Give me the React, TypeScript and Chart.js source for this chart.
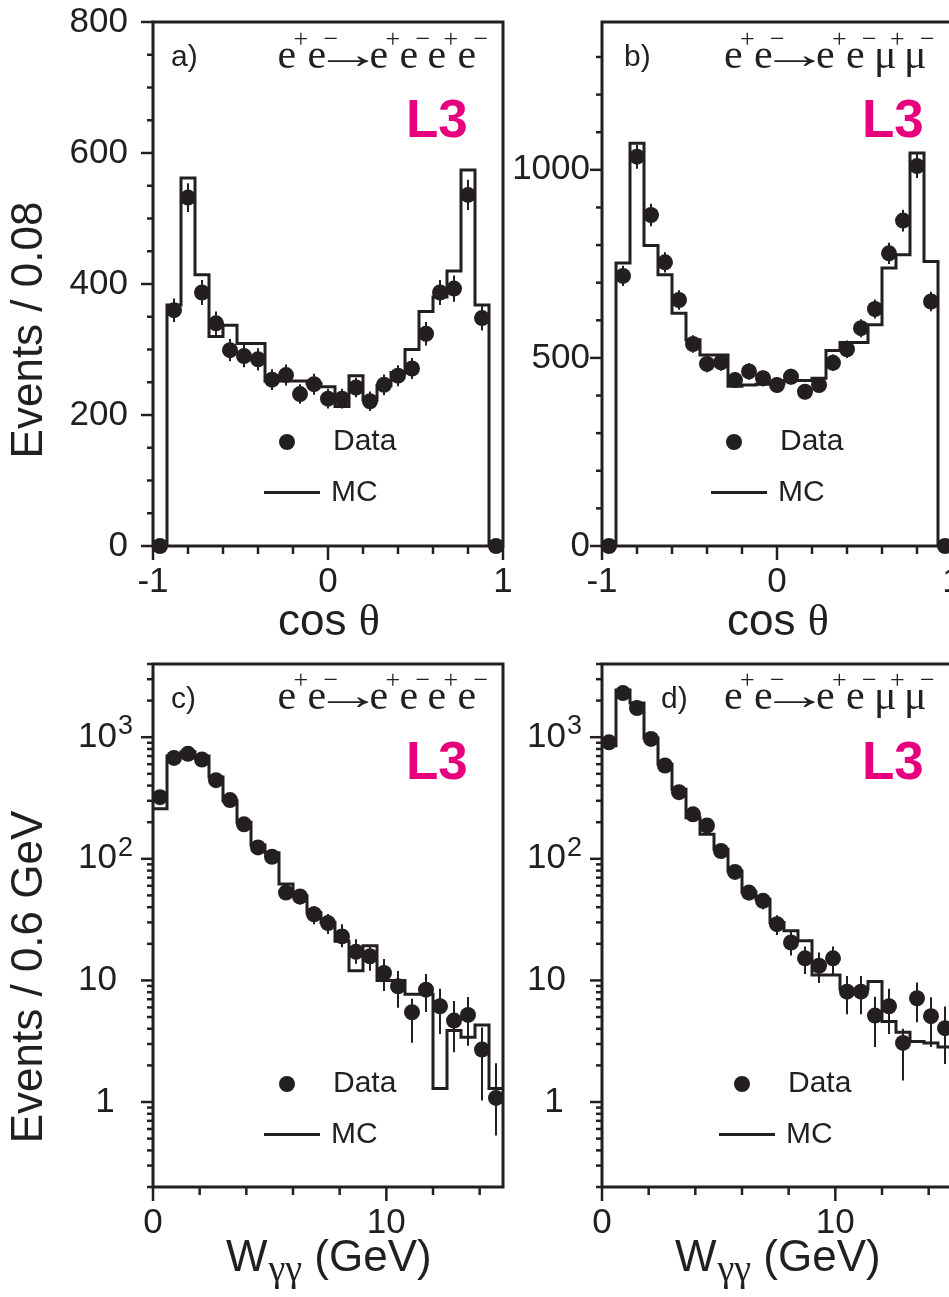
import React, { useEffect, useRef } from 'react';
import { Chart, registerables } from 'chart.js';

Chart.register(...registerables);

const INK = '#231f20';
const L3_COLOR = '#e6007e';
const SANS = '"Liberation Sans", Arial, Helvetica, sans-serif';
const SERIF = '"Liberation Serif", "Times New Roman", Times, serif';

// ---------- binning ----------
const cosBinLow = -1;
const cosBinWidth = 0.08;
const wBinLow = 0;
const wBinWidth = 0.6;

// ---------- a) cos theta, e+e- -> e+e-e+e- ----------
const cosDataEE = [0, 360, 532, 387, 340, 299, 290, 285, 254, 261, 232, 247, 225, 225, 242, 221, 246, 260, 271, 324, 387, 393, 536, 348, 0];
const cosErrEE = [0, 18, 22, 19, 18, 17, 17, 17, 16, 16, 15, 16, 15, 15, 15, 15, 16, 16, 16, 18, 19, 20, 23, 19, 0];
const cosMcEE = [0, 368, 562, 414, 320, 337, 309, 309, 252, 252, 252, 248, 243, 213, 260, 223, 245, 265, 300, 358, 380, 420, 574, 368, 0];

// ---------- b) cos theta, e+e- -> e+e-mu+mu- ----------
const cosDataMM = [0, 718, 1035, 880, 754, 654, 537, 484, 488, 441, 464, 446, 428, 450, 410, 428, 487, 523, 579, 630, 778, 865, 1010, 650, 0];
const cosErrMM = [0, 27, 32, 30, 27, 26, 23, 22, 22, 21, 22, 21, 21, 21, 20, 21, 22, 23, 24, 25, 28, 29, 32, 26, 0];
const cosMcMM = [0, 752, 1071, 799, 721, 619, 548, 508, 508, 425, 428, 430, 432, 440, 440, 446, 520, 541, 541, 588, 739, 774, 1045, 756, 0];

// ---------- c) W_gg, e+e- -> e+e-e+e- ----------
const wDataEE = [321, 676, 730, 655, 443, 304, 192, 124, 104, 52.8, 49, 35, 29.6, 23.0, 17.2, 15.8, 11.5, 8.95, 5.47, 8.39, 6.13, 4.67, 5.2, 2.7, 1.08];
const wErrUpEE = [18, 26, 27, 26, 21, 17, 14, 11, 10, 7, 7, 6, 5.5, 5.9, 4.6, 3.7, 3.5, 3.0, 1.6, 2.9, 2.4, 2.1, 2.1, 1.4, 1.0];
const wErrDownEE = [18, 26, 27, 26, 21, 17, 14, 11, 10, 7, 7, 6, 5.5, 4.3, 3.5, 3.8, 3.3, 3.0, 2.4, 2.9, 2.5, 2.1, 2.3, 1.67, 0.55];
const wMcEE = [258, 700, 760, 700, 470, 300, 200, 130, 112, 62, 49.5, 36, 30, 21, 12.0, 19.3, 10, 10, 7.7, 7.7, 1.29, 3.87, 3.41, 4.3, 1.29];

// ---------- d) W_gg, e+e- -> e+e-mu+mu- ----------
const wDataMM = [908, 2308, 1738, 968, 585, 353, 232, 188, 116, 78, 52.8, 45.1, 29.0, 20.5, 15.2, 13.2, 15.2, 8.08, 8.08, 5.14, 6.13, 3.06, 7.13, 5.08, 4.05];
const wErrUpMM = [30, 48, 42, 31, 24, 19, 15, 14, 11, 9, 7.3, 6.7, 5.4, 4.5, 3.8, 3.8, 3.8, 2.8, 2.8, 2.2, 2.4, 0.94, 2.5, 2.2, 2.05];
const wErrDownMM = [30, 48, 42, 31, 24, 19, 15, 14, 11, 9, 7.3, 6.7, 5.4, 4.5, 3.9, 3.7, 3.9, 2.8, 2.8, 2.3, 2.5, 1.56, 2.6, 2.25, 2.0];
const wMcMM = [850, 2450, 1910, 987, 598, 373, 218, 159, 120, 79, 53, 46.5, 30, 25.6, 21.2, 11.1, 11.1, 8.5, 8.5, 9.8, 4.6, 3.75, 3.14, 3.06, 2.83];

// ---------- axes / tick labels ----------
const cosXMajor = [-1, 0, 1];
const cosXMinorStep = 0.2;
const cosYMajorEE = [0, 200, 400, 600, 800];
const cosYMinorEE = 50;
const cosYMajorMM = [0, 500, 1000];
const cosYMinorMM = 100;
const wXMajor = [0, 10];
const wXMinorStep = 2;
const logYLabels = [
  { v: 1, base: '1', sup: '' },
  { v: 10, base: '10', sup: '' },
  { v: 100, base: '10', sup: '2' },
  { v: 1000, base: '10', sup: '3' },
];

const panels: any[] = [
  {
    key: 'a', left: 0, top: 0, w: 520, h: 650, yW: 153, padTop: 22, padRight: 17, xH: 104,
    log: false, binLow: cosBinLow, binWidth: cosBinWidth,
    data: cosDataEE, errUp: cosErrEE, errDown: cosErrEE, mc: cosMcEE,
    xMin: -1, xMax: 1, yMin: 0, yMax: 800, xMajor: cosXMajor, xMinorStep: cosXMinorStep,
    yMajor: cosYMajorEE, yMinorStep: cosYMinorEE, yLabelPad: 25,
    label: 'a)', labelDx: 18, l3Dx: 253, procDx: 124.5, procDy: 46, last: 'e', legendDx: 0,
    xTitle: 'cos', yTitle: 'Events / 0.08', yTitleY: 330,
  },
  {
    key: 'b', left: 460, top: 0, w: 520, h: 650, yW: 142, padTop: 22, padRight: 28, xH: 104,
    log: false, binLow: cosBinLow, binWidth: cosBinWidth,
    data: cosDataMM, errUp: cosErrMM, errDown: cosErrMM, mc: cosMcMM,
    xMin: -1, xMax: 1, yMin: 0, yMax: 1393, xMajor: cosXMajor, xMinorStep: cosXMinorStep,
    yMajor: cosYMajorMM, yMinorStep: cosYMinorMM, yLabelPad: 12,
    label: 'b)', labelDx: 22, l3Dx: 260, procDx: 122, procDy: 46, last: 'μ', legendDx: -2,
    xTitle: 'cos', yTitle: '', yTitleY: 0,
  },
  {
    key: 'c', left: 0, top: 640, w: 520, h: 657, yW: 153, padTop: 24, padRight: 17, xH: 110,
    log: true, binLow: wBinLow, binWidth: wBinWidth,
    data: wDataEE, errUp: wErrUpEE, errDown: wErrDownEE, mc: wMcEE,
    xMin: 0, xMax: 15, yMin: 0.2, yMax: 4000, xMajor: wXMajor, xMinorStep: wXMinorStep,
    yMajor: [], yMinorStep: 0, yLabelPad: 0,
    label: 'c)', labelDx: 18, l3Dx: 253, procDx: 124.5, procDy: 44.5, last: 'e', legendDx: 0,
    xTitle: 'w', yTitle: 'Events / 0.6 GeV', yTitleY: 337,
  },
  {
    key: 'd', left: 460, top: 640, w: 520, h: 657, yW: 142, padTop: 24, padRight: 28, xH: 110,
    log: true, binLow: wBinLow, binWidth: wBinWidth,
    data: wDataMM, errUp: wErrUpMM, errDown: wErrDownMM, mc: wMcMM,
    xMin: 0, xMax: 15, yMin: 0.2, yMax: 4000, xMajor: wXMajor, xMinorStep: wXMinorStep,
    yMajor: [], yMinorStep: 0, yLabelPad: 0,
    label: 'd)', labelDx: 59, l3Dx: 260, procDx: 122, procDy: 44.5, last: 'μ', legendDx: 6,
    xTitle: 'w', yTitle: '', yTitleY: 0,
  },
];

function isMajor(v: number, majors: number[]) {
  return majors.some((m) => Math.abs(m - v) < 1e-6);
}

function line(ctx: any, x1: number, y1: number, x2: number, y2: number) {
  ctx.beginPath();
  ctx.moveTo(x1, y1);
  ctx.lineTo(x2, y2);
  ctx.stroke();
}

function drawProcess(ctx: any, x0: number, base: number, last: string) {
  const glyphs = ['e', 'e', 'e', 'e', last, last];
  const offs = [0, 30, 92, 122, 150, 180];
  const sups = ['+', '\u2212', '+', '\u2212', '+', '\u2212'];
  ctx.textAlign = 'left';
  ctx.textBaseline = 'alphabetic';
  for (let i = 0; i < glyphs.length; i++) {
    ctx.font = `42px ${SERIF}`;
    ctx.fillText(glyphs[i], x0 + offs[i], base);
    ctx.font = `26px ${SERIF}`;
    ctx.fillText(sups[i], x0 + offs[i] + 16, base - 21);
  }
  // arrow glyph, stretched horizontally so its ink spans the long ROOT-style arrow
  ctx.save();
  ctx.font = `40px ${SERIF}`;
  const m = ctx.measureText('\u2192');
  const inkL = m.actualBoundingBoxLeft || 0;
  const inkR = m.actualBoundingBoxRight || m.width || 40;
  const inkW = Math.max(inkR + inkL, 1);
  const sx = 41 / inkW;
  ctx.translate(x0 + 50, base);
  ctx.scale(sx, 1);
  ctx.fillText('\u2192', inkL, 0);
  ctx.restore();
}

function zeroPadding(s: any) {
  s.paddingLeft = 0;
  s.paddingRight = 0;
  s.paddingTop = 0;
  s.paddingBottom = 0;
}

function makeDecor(p: any) {
  return {
    id: 'decor_' + p.key,
    afterDatasetsDraw(chart: any) {
      const { ctx } = chart;
      const xs = chart.scales.x;
      const ys = chart.scales.y;
      ctx.save();
      ctx.strokeStyle = INK;
      ctx.lineWidth = 2;
      p.data.forEach((v: number, i: number) => {
        const up = p.errUp[i];
        const dn = p.errDown[i];
        if (!up && !dn) return;
        const px = xs.getPixelForValue(p.binLow + (i + 0.5) * p.binWidth);
        line(ctx, px, ys.getPixelForValue(v + up), px, ys.getPixelForValue(v - dn));
      });
      ctx.restore();
    },
    afterDraw(chart: any) {
      const { ctx, chartArea: ca } = chart;
      const xs = chart.scales.x;
      const ys = chart.scales.y;
      const L = ca.left;
      const T = ca.top;
      ctx.save();
      ctx.strokeStyle = INK;
      ctx.fillStyle = INK;

      // frame
      ctx.lineWidth = 3;
      ctx.strokeRect(ca.left, ca.top, ca.right - ca.left, ca.bottom - ca.top);

      // x ticks
      ctx.lineWidth = 2.5;
      const nx = Math.round((p.xMax - p.xMin) / p.xMinorStep);
      for (let i = 0; i <= nx; i++) {
        const v = p.xMin + i * p.xMinorStep;
        const px = xs.getPixelForValue(v);
        const len = isMajor(v, p.xMajor) ? 14 : 8;
        line(ctx, px, ca.bottom, px, ca.bottom + len);
      }
      // y ticks
      if (!p.log) {
        const ny = Math.floor((p.yMax - p.yMin) / p.yMinorStep + 1e-9);
        for (let i = 0; i <= ny; i++) {
          const v = p.yMin + i * p.yMinorStep;
          const py = ys.getPixelForValue(v);
          const len = isMajor(v, p.yMajor) ? 12 : 6;
          line(ctx, ca.left, py, ca.left - len, py);
        }
      } else {
        const e0 = Math.floor(Math.log10(p.yMin));
        const e1 = Math.ceil(Math.log10(p.yMax));
        for (let e = e0; e <= e1; e++) {
          for (let mm = 1; mm <= 9; mm++) {
            const v = mm * Math.pow(10, e);
            if (v < p.yMin * 0.999 || v > p.yMax * 1.001) continue;
            const py = ys.getPixelForValue(v);
            const len = mm === 1 ? 12 : 6;
            line(ctx, ca.left, py, ca.left - len, py);
          }
        }
        // log labels
        for (const lab of logYLabels) {
          const py = ys.getPixelForValue(lab.v);
          ctx.font = `35px ${SANS}`;
          ctx.textBaseline = 'middle';
          if (lab.base === '1') {
            ctx.textAlign = 'center';
            ctx.fillText(lab.base, L - 48, py);
          } else {
            ctx.textAlign = 'right';
            ctx.fillText(lab.base, L - 36, py);
            if (lab.sup) {
              ctx.font = `27px ${SANS}`;
              ctx.textAlign = 'left';
              ctx.textBaseline = 'alphabetic';
              ctx.fillText(lab.sup, L - 35, py - 3);
            }
          }
        }
      }

      // panel label
      ctx.font = `30px ${SANS}`;
      ctx.textAlign = 'left';
      ctx.textBaseline = 'alphabetic';
      ctx.fillText(p.label, L + p.labelDx, T + 44);

      // process
      drawProcess(ctx, L + p.procDx, T + p.procDy, p.last);

      // L3 logo
      ctx.save();
      ctx.fillStyle = L3_COLOR;
      ctx.font = `bold 53px ${SANS}`;
      ctx.textAlign = 'left';
      ctx.textBaseline = 'alphabetic';
      ctx.fillText('L3', L + p.l3Dx, T + 115);
      ctx.restore();

      // legend
      const lx = L + p.legendDx;
      ctx.beginPath();
      ctx.arc(lx + 134, T + 420, 8, 0, Math.PI * 2);
      ctx.fill();
      ctx.font = `30px ${SANS}`;
      ctx.textBaseline = 'middle';
      ctx.textAlign = 'left';
      ctx.fillText('Data', lx + 180, T + 420);
      ctx.lineWidth = 3;
      line(ctx, lx + 111, T + 470.5, lx + 167, T + 470.5);
      ctx.fillText('MC', lx + 178, T + 471);

      // x title
      ctx.textBaseline = 'alphabetic';
      ctx.textAlign = 'left';
      if (p.xTitle === 'cos') {
        ctx.font = `44px ${SANS}`;
        const w1 = ctx.measureText('cos ').width;
        ctx.font = `44px ${SERIF}`;
        const w2 = ctx.measureText('\u03b8').width;
        const x0 = L + 176 - (w1 + w2) / 2;
        const by = ca.bottom + 89;
        ctx.font = `44px ${SANS}`;
        ctx.fillText('cos ', x0, by);
        ctx.font = `44px ${SERIF}`;
        ctx.fillText('\u03b8', x0 + w1, by);
      } else {
        const by = ca.bottom + 84;
        let x = L + 73;
        ctx.font = `44px ${SANS}`;
        ctx.fillText('W', x, by);
        x += ctx.measureText('W').width;
        ctx.font = `38px ${SERIF}`;
        ctx.fillText('\u03b3\u03b3', x + 1, by + 10);
        x += ctx.measureText('\u03b3\u03b3').width + 1;
        ctx.font = `44px ${SANS}`;
        ctx.fillText(' (GeV)', x, by);
      }

      // y title
      if (p.yTitle) {
        ctx.save();
        ctx.translate(30, p.yTitleY);
        ctx.rotate(-Math.PI / 2);
        ctx.font = `44px ${SANS}`;
        ctx.textAlign = 'center';
        ctx.textBaseline = 'middle';
        ctx.fillText(p.yTitle, 0, 0);
        ctx.restore();
      }
      ctx.restore();
    },
  };
}

function buildConfig(p: any) {
  const dataPts = p.data.map((v: number, i: number) => ({ x: p.binLow + (i + 0.5) * p.binWidth, y: v }));
  const mcPts = p.mc.map((v: number, i: number) => ({ x: p.binLow + i * p.binWidth, y: v }));
  mcPts.push({ x: p.binLow + p.mc.length * p.binWidth, y: p.mc[p.mc.length - 1] });

  const tickFont = { family: SANS, size: 35 };
  return {
    type: 'scatter',
    data: {
      datasets: [
        {
          type: 'scatter',
          label: 'Data',
          data: dataPts,
          pointRadius: 8,
          pointHoverRadius: 8,
          backgroundColor: INK,
          borderColor: INK,
          pointBorderWidth: 0,
          borderWidth: 0,
          clip: false,
        },
        {
          type: 'line',
          label: 'MC',
          data: mcPts,
          stepped: 'before',
          borderColor: INK,
          borderWidth: 3,
          pointRadius: 0,
          pointHoverRadius: 0,
          fill: false,
          tension: 0,
        },
      ],
    },
    options: {
      responsive: false,
      maintainAspectRatio: false,
      animation: false,
      events: [],
      layout: { padding: { top: p.padTop, right: p.padRight, left: 0, bottom: 0 } },
      plugins: { legend: { display: false }, tooltip: { enabled: false }, title: { display: false } },
      scales: {
        x: {
          type: 'linear',
          min: p.xMin,
          max: p.xMax,
          grid: { display: false, drawTicks: false },
          border: { display: false },
          ticks: {
            font: tickFont,
            color: INK,
            padding: 15,
            maxRotation: 0,
            autoSkip: false,
            includeBounds: false,
            callback: (v: number) => String(v),
          },
          afterBuildTicks: (s: any) => {
            s.ticks = p.xMajor.map((v: number) => ({ value: v }));
          },
          afterFit: (s: any) => {
            s.height = p.xH;
            zeroPadding(s);
          },
        },
        y: {
          type: p.log ? 'logarithmic' : 'linear',
          min: p.yMin,
          max: p.yMax,
          grid: { display: false, drawTicks: false },
          border: { display: false },
          ticks: {
            display: !p.log,
            font: tickFont,
            color: INK,
            padding: p.yLabelPad,
            autoSkip: false,
            includeBounds: false,
            callback: (v: number) => String(v),
          },
          afterBuildTicks: (s: any) => {
            if (!p.log) s.ticks = p.yMajor.map((v: number) => ({ value: v }));
          },
          afterFit: (s: any) => {
            s.width = p.yW;
            zeroPadding(s);
          },
        },
      },
    },
    plugins: [makeDecor(p)],
  };
}

function PanelChart({ panel }: { panel: any }) {
  const ref = useRef<HTMLCanvasElement>(null);
  useEffect(() => {
    const chart = new Chart(ref.current as HTMLCanvasElement, buildConfig(panel) as any);
    return () => chart.destroy();
  }, [panel]);
  return (
    <canvas
      ref={ref}
      width={panel.w}
      height={panel.h}
      style={{ position: 'absolute', left: panel.left, top: panel.top, width: panel.w, height: panel.h }}
    />
  );
}

export default function App() {
  return (
    <div
      style={{
        position: 'fixed',
        left: 0,
        top: 0,
        width: 949,
        height: 1297,
        overflow: 'hidden',
        background: '#ffffff',
      }}
    >
      {panels.map((p) => (
        <PanelChart key={p.key} panel={p} />
      ))}
    </div>
  );
}
